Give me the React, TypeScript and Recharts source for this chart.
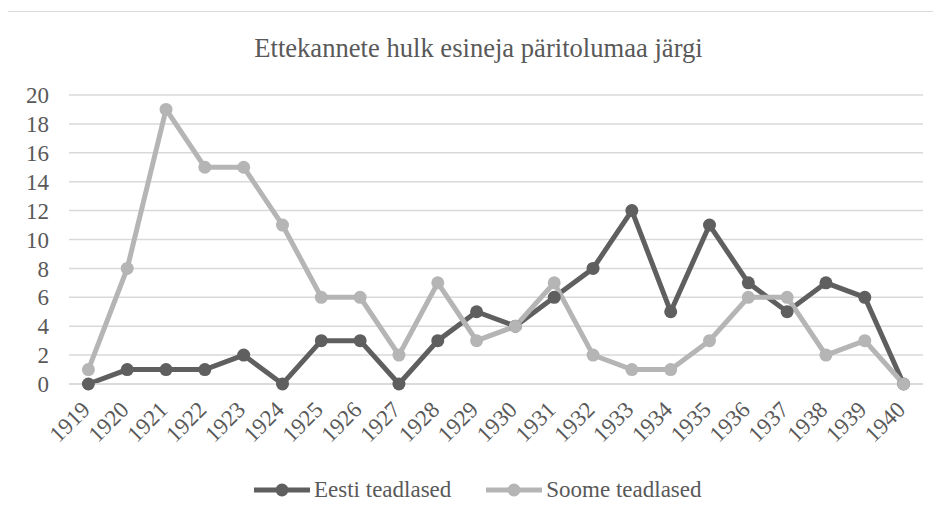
import { LineChart, Line, XAxis, YAxis, CartesianGrid } from 'recharts';

const years = ['1919', '1920', '1921', '1922', '1923', '1924', '1925', '1926', '1927', '1928', '1929', '1930', '1931', '1932', '1933', '1934', '1935', '1936', '1937', '1938', '1939', '1940'];
const eesti = [0, 1, 1, 1, 2, 0, 3, 3, 0, 3, 5, 4, 6, 8, 12, 5, 11, 7, 5, 7, 6, 0];
const soome = [1, 8, 19, 15, 15, 11, 6, 6, 2, 7, 3, 4, 7, 2, 1, 1, 3, 6, 6, 2, 3, 0];
const yTicks = [0, 2, 4, 6, 8, 10, 12, 14, 16, 18, 20];
const seriesNames = ['Eesti teadlased', 'Soome teadlased'];
const seriesColors = ['#5f5f5f', '#b5b5b5'];

const chartData = years.map((year, i) => ({ year, eesti: eesti[i], soome: soome[i] }));

const FONT = 'Liberation Serif';
const TEXT = '#595959';

function YearTick(props: any) {
    const { x, y, payload } = props;
    const tx = x + 3;
    const ty = y + 19;
    return (
        <text
            x={tx}
            y={ty}
            transform={`rotate(-45, ${tx}, ${ty})`}
            textAnchor="end"
            fontFamily={FONT}
            fontSize={23}
            fill={TEXT}
        >
            {payload.value}
        </text>
    );
}

function LegendItem({ name, color, last }: { name: string; color: string; last: boolean }) {
    return (
        <div style={{ display: 'flex', alignItems: 'center', marginRight: last ? 0 : 35 }}>
            <svg width={56} height={16} style={{ marginRight: 4 }}>
                <line x1={0} y1={8} x2={56} y2={8} stroke={color} strokeWidth={5} />
                <circle cx={28} cy={8} r={6.5} fill={color} />
            </svg>
            <span>{name}</span>
        </div>
    );
}

export default function App() {
    return (
        <div style={{ position: 'relative', width: 941, height: 520, margin: -8, overflow: 'hidden', background: '#fff' }}>
            <div
                style={{
                    position: 'absolute', left: 7, top: 11, width: 1200, height: 800,
                    border: '1px solid #d9d9d9',
                }}
            />
            <div
                style={{
                    position: 'absolute', left: 0, top: 35, width: 957, textAlign: 'center',
                    fontFamily: FONT, fontSize: 26.6, lineHeight: '26px', color: TEXT,
                }}
            >
                Ettekannete hulk esineja päritolumaa järgi
            </div>
            <div style={{ position: 'absolute', left: 0, top: 0 }}>
                <LineChart width={941} height={520} data={chartData} margin={{ top: 95, right: 18, bottom: 76, left: 9 }}>
                    <CartesianGrid vertical={false} stroke="#d9d9d9" strokeWidth={1.5} />
                    <XAxis
                        dataKey="year"
                        axisLine={{ stroke: '#d9d9d9', strokeWidth: 1.5 }}
                        tickLine={false}
                        interval={0}
                        height={60}
                        padding={{ left: 19.4, right: 19.4 }}
                        tick={<YearTick />}
                    />
                    <YAxis
                        width={60}
                        domain={[0, 20]}
                        ticks={yTicks}
                        interval={0}
                        axisLine={false}
                        tickLine={false}
                        tickMargin={14}
                        tick={{ fontFamily: FONT, fontSize: 23, fill: TEXT }}
                    />
                    <Line
                        dataKey="eesti"
                        name={seriesNames[0]}
                        stroke={seriesColors[0]}
                        strokeWidth={5}
                        dot={{ r: 6.5, fill: seriesColors[0], stroke: seriesColors[0], strokeWidth: 0 }}
                        activeDot={false}
                        isAnimationActive={false}
                    />
                    <Line
                        dataKey="soome"
                        name={seriesNames[1]}
                        stroke={seriesColors[1]}
                        strokeWidth={5}
                        dot={{ r: 6.5, fill: seriesColors[1], stroke: seriesColors[1], strokeWidth: 0 }}
                        activeDot={false}
                        isAnimationActive={false}
                    />
                </LineChart>
            </div>
            <div
                style={{
                    position: 'absolute', left: 254, top: 477, display: 'flex',
                    fontFamily: FONT, fontSize: 23, lineHeight: '26px', color: TEXT,
                }}
            >
                {seriesNames.map((n, i) => (
                    <LegendItem key={n} name={n} color={seriesColors[i]} last={i === seriesNames.length - 1} />
                ))}
            </div>
        </div>
    );
}
